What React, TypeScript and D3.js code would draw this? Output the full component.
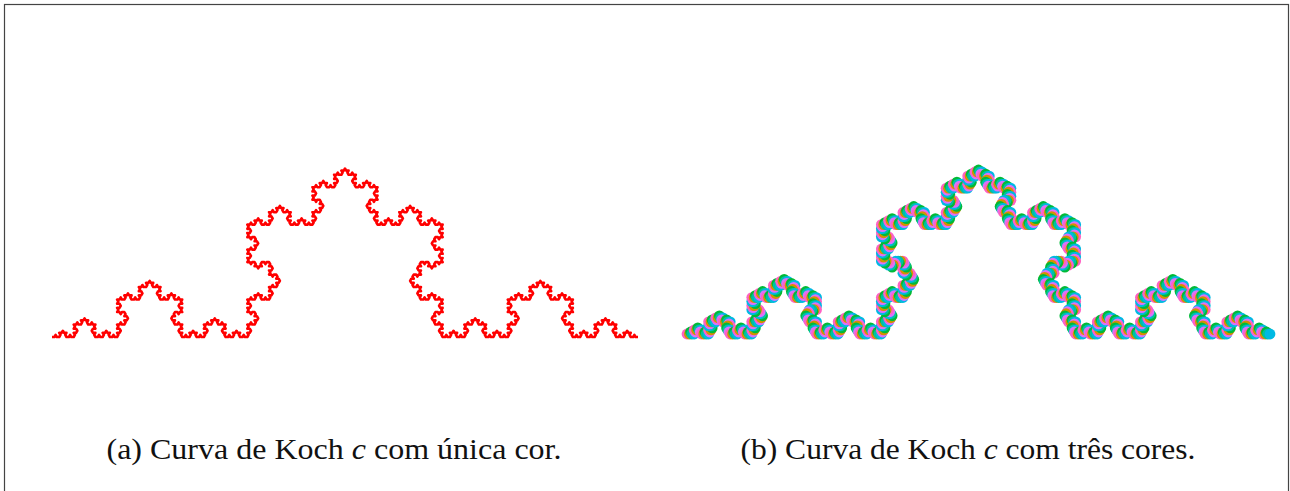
import React from "react";
import * as d3 from "d3";

// Koch curve settings
const KOCH_LEVEL = 5;
const BASE_START: [number, number] = [0, 0];
const BASE_END: [number, number] = [1, 0];

// Dot colours cycled along the curve in panel (b)
const DOT_COLORS = ["#FF61C3", "#D39200", "#00BA38", "#00C19F", "#00B9E3", "#DB72FB"];

const CAPTIONS = [
  { label: "(a) Curva de Koch ", italic: "c", rest: " com única cor." },
  { label: "(b) Curva de Koch ", italic: "c", rest: " com três cores." },
];

type Pt = [number, number];

function koch(a: Pt, b: Pt, level: number): Pt[] {
  if (level === 0) return [a, b];
  const dx = (b[0] - a[0]) / 3;
  const dy = (b[1] - a[1]) / 3;
  const p1: Pt = [a[0] + dx, a[1] + dy];
  const p3: Pt = [a[0] + 2 * dx, a[1] + 2 * dy];
  const ang = Math.PI / 3;
  const p2: Pt = [
    p1[0] + dx * Math.cos(ang) - dy * Math.sin(ang),
    p1[1] + dx * Math.sin(ang) + dy * Math.cos(ang),
  ];
  const segs = [
    koch(a, p1, level - 1),
    koch(p1, p2, level - 1),
    koch(p2, p3, level - 1),
    koch(p3, b, level - 1),
  ];
  const out: Pt[] = [];
  segs.forEach((s, i) => out.push(...(i === 0 ? s : s.slice(1))));
  return out;
}

const W = 1290;
const H = 491;
const PEAK = Math.sqrt(3) / 6;

export default function App() {
  const pts = koch(BASE_START, BASE_END, KOCH_LEVEL);

  // Panel (a)
  const xa = d3.scaleLinear().domain([0, 1]).range([52, 638]);
  const ya = d3.scaleLinear().domain([0, PEAK]).range([337, 168.5]);
  const lineA = d3
    .line<Pt>()
    .x((d) => xa(d[0]))
    .y((d) => ya(d[1]));

  // Panel (b): one dot per vertex of the curve
  const xb = d3.scaleLinear().domain([0, 1]).range([687, 1270]);
  const yb = d3.scaleLinear().domain([0, PEAK]).range([334, 170]);
  const color = d3
    .scaleOrdinal<number, string>()
    .domain(d3.range(DOT_COLORS.length))
    .range(DOT_COLORS);

  const captionX = [334, 968];

  return (
    <svg
      width={W}
      height={H}
      style={{ position: "absolute", left: 0, top: 0, background: "#fff" }}
    >
      <rect x={4.5} y={4.5} width={1284} height={H + 5} fill="#fff" stroke="#444" strokeWidth={1.2} />
      <path d={lineA(pts) ?? ""} fill="none" stroke="#ff0000" strokeWidth={2.6} strokeLinejoin="round" />
      <g>
        {pts.map((d, i) => (
          <circle key={i} cx={xb(d[0])} cy={yb(d[1])} r={5.4} fill={color(i % DOT_COLORS.length)} />
        ))}
      </g>
      {CAPTIONS.map((c, i) => (
        <text
          key={i}
          x={captionX[i]}
          y={459}
          textAnchor="middle"
          fontFamily="'Liberation Serif', 'DejaVu Serif', serif"
          fontSize={29}
          textLength={455}
          lengthAdjust="spacingAndGlyphs"
          fill="#111"
        >
          {c.label}
          <tspan fontStyle="italic">{c.italic}</tspan>
          {c.rest}
        </text>
      ))}
    </svg>
  );
}
